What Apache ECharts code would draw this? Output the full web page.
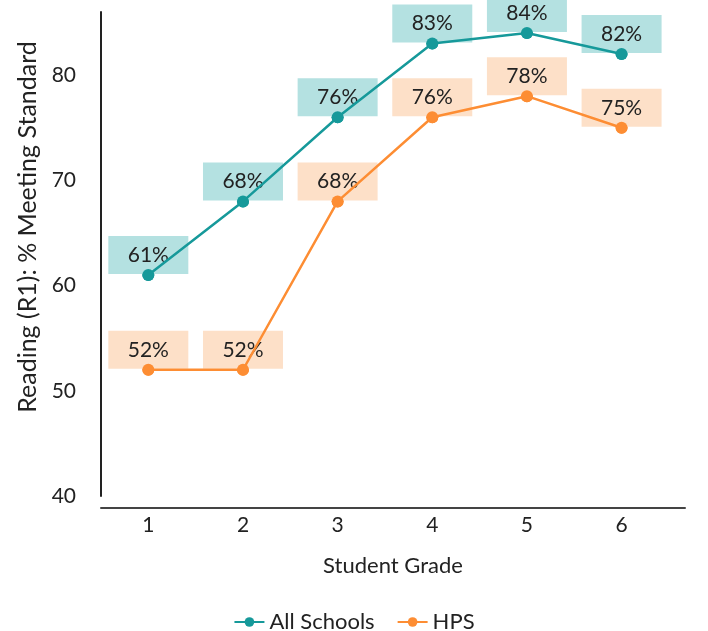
<!DOCTYPE html>
<html>
<head>
<meta charset="utf-8">
<script src="https://cdn.jsdelivr.net/npm/echarts@6/dist/echarts.min.js"></script>
<style>
  html, body { margin: 0; padding: 0; background: #fff; }
  #chart { width: 708px; height: 631px; }
</style>
</head>
<body>
<div id="chart"></div>
<script>
var grades = [1, 2, 3, 4, 5, 6];
var allSchools = [61, 68, 76, 83, 84, 82];
var hps = [52, 52, 68, 76, 78, 75];
var yTicks = [40, 50, 60, 70, 80];

var font = 'Lato, "Open Sans", sans-serif';
var textColor = '#222';

function pairs(values) {
    return grades.map(function (g, i) { return [g, values[i]]; });
}

// the line and its dots, drawn above the label boxes
function lineSeries(name, values, color) {
    return {
        name: name,
        type: 'line',
        z: 4,
        data: pairs(values),
        symbol: 'circle',
        symbolSize: 12,
        lineStyle: { color: color, width: 2.5 },
        itemStyle: { color: color }
    };
}

// same points again, only to carry the boxed % labels underneath the line
function labelSeries(name, values, color, boxColor) {
    return {
        name: name + ' labels',
        type: 'line',
        z: 1,
        data: pairs(values),
        symbol: 'circle',
        symbolSize: 12,
        lineStyle: { width: 0, opacity: 0 },
        itemStyle: { color: color },
        tooltip: { show: false },
        label: {
            show: true,
            position: 'top',
            distance: 0,
            offset: [0, 5],
            formatter: function (p) { return p.value[1] + '%'; },
            backgroundColor: boxColor,
            width: 80,
            height: 38,
            lineHeight: 38,
            align: 'center',
            color: textColor,
            fontFamily: font,
            fontSize: 21
        }
    };
}

var chart = echarts.init(document.getElementById('chart'));
var option = {
    animation: false,
    textStyle: { fontFamily: font },
    grid: { left: 101, right: 23, top: 12, bottom: 135 },
    xAxis: {
        type: 'value',
        min: 0.5,
        max: 6.67,
        interval: 0.5,
        offset: 12,
        name: 'Student Grade',
        nameLocation: 'middle',
        nameGap: 47,
        nameTextStyle: { color: textColor, fontSize: 22, fontFamily: font },
        axisLine: { show: true, lineStyle: { color: '#444', width: 2 } },
        axisTick: { show: false },
        splitLine: { show: false },
        axisLabel: {
            margin: 7,
            color: textColor,
            fontSize: 21,
            fontFamily: font,
            formatter: function (v) { return grades.indexOf(v) >= 0 ? String(v) : ''; }
        }
    },
    yAxis: {
        type: 'value',
        min: yTicks[0],
        max: 86,
        interval: 10,
        name: 'Reading (R1): % Meeting Standard',
        nameLocation: 'middle',
        nameGap: 60,
        nameTextStyle: { color: textColor, fontSize: 25, fontFamily: font, padding: [0, 0, 0, 54] },
        axisLine: { show: true, lineStyle: { color: '#222', width: 2 } },
        axisTick: { show: false },
        splitLine: { show: false },
        axisLabel: {
            margin: 25,
            color: textColor,
            fontSize: 21,
            fontFamily: font,
            showMaxLabel: false,
            formatter: function (v) { return yTicks.indexOf(v) >= 0 ? String(v) : ''; }
        }
    },
    legend: {
        top: 606,
        left: 'center',
        itemWidth: 30,
        itemHeight: 12,
        itemGap: 22,
        textStyle: { color: textColor, fontSize: 22, fontFamily: font },
        data: ['All Schools', 'HPS']
    },
    series: [
        labelSeries('All Schools', allSchools, '#16999a', '#b4e1e1'),
        labelSeries('HPS', hps, '#fd8d33', '#fde0c8'),
        lineSeries('All Schools', allSchools, '#16999a'),
        lineSeries('HPS', hps, '#fd8d33')
    ]
};
chart.setOption(option);
</script>
</body>
</html>
